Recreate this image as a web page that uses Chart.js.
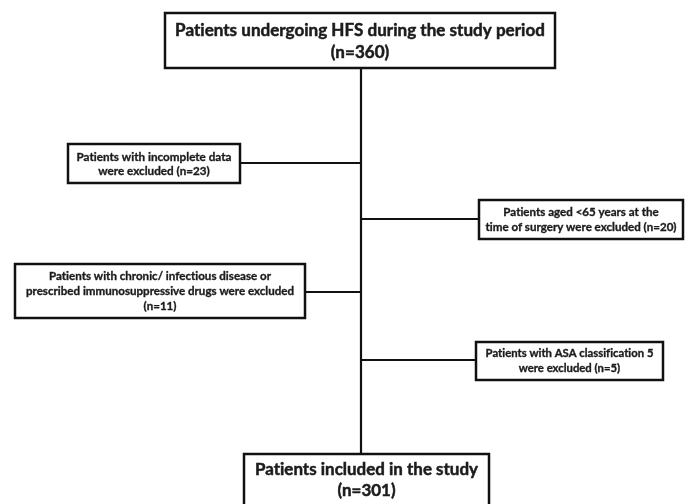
<!DOCTYPE html>
<html><head><meta charset="utf-8">
<script src="https://cdn.jsdelivr.net/npm/chart.js@4/dist/chart.umd.min.js"></script>
<style>html,body{margin:0;padding:0;background:#fff;overflow:hidden}#wrap{width:685px;height:504px;position:relative}</style>
</head><body><div id="wrap"><canvas id="c"></canvas></div>
<script>
// ---- data ----
const stepCounts = [360, 23, 20, 11, 5, 301];
const stepText = [
  ["Patients undergoing HFS during the study period", "(n={n})"],
  ["Patients with incomplete data", "were excluded (n={n})"],
  ["Patients aged <65 years at the", "time of surgery were excluded (n={n})"],
  ["Patients with chronic/ infectious disease or", "prescribed immunosuppressive drugs were excluded", "(n={n})"],
  ["Patients with ASA classification 5", "were excluded (n={n})"],
  ["Patients included in the study", "(n={n})"]
];
// ---- layout (data space = 685 x 504) ----
const boxX1 = [165, 68, 479, 15, 476, 244];
const boxX2 = [555, 240, 683, 305, 663, 489];
const boxY1 = [13, 144, 200, 264, 342, 454];
const boxY2 = [68, 183, 239, 318, 380, 530];
const textCY = [41, 164, 220, 291, 361, 480];
const textLH = [22, 14.5, 15, 15, 15.5, 21];
const textW  = [370, 155, 191, 268, 168, 223];
const trunkX = 361;
const branchY = [163, 219, 292, 360];
const branchFrom = [240, 479, 305, 476];

const lines = stepText.map((ls, i) => ls.map(s => s.replace("{n}", stepCounts[i])));

const datasets = [];
datasets.push({data: [{x: trunkX, y: boxY2[0]}, {x: trunkX, y: boxY1[5]}]});
branchY.forEach((y, i) => datasets.push({data: [{x: branchFrom[i], y: y}, {x: trunkX, y: y}]}));
datasets.forEach(d => Object.assign(d, {showLine: true, borderColor: '#111', borderWidth: 2.2, pointRadius: 0, fill: false}));

const boxPlugin = {
  id: 'boxes',
  afterDatasetsDraw(chart) {
    const ctx = chart.ctx, xs = chart.scales.x, ys = chart.scales.y;
    ctx.save();
    for (let i = 0; i < lines.length; i++) {
      const x1 = xs.getPixelForValue(boxX1[i]), x2 = xs.getPixelForValue(boxX2[i]);
      const y1 = ys.getPixelForValue(boxY1[i]), y2 = ys.getPixelForValue(boxY2[i]);
      ctx.fillStyle = '#fff';
      ctx.fillRect(x1, y1, x2 - x1, y2 - y1);
      ctx.strokeStyle = '#111';
      ctx.lineWidth = 2.5;
      ctx.strokeRect(x1, y1, x2 - x1, y2 - y1);
      if ('letterSpacing' in ctx) ctx.letterSpacing = '0.01px';
      let size = 20;
      ctx.font = `bold ${size}px Lato`;
      let maxW = Math.max(...lines[i].map(s => ctx.measureText(s).width));
      size = size * textW[i] / maxW;
      ctx.font = `bold ${size}px Lato`;
      ctx.fillStyle = '#1c1c1c';
      ctx.strokeStyle = '#1c1c1c';
      ctx.lineWidth = size > 14 ? 0.5 : 0.35;
      ctx.textAlign = 'center';
      ctx.textBaseline = 'middle';
      const cx = (x1 + x2) / 2;
      const n = lines[i].length;
      const cy = ys.getPixelForValue(textCY[i]);
      lines[i].forEach((s, k) => {
        const ty = cy + (k - (n - 1) / 2) * textLH[i];
        ctx.fillText(s, cx, ty);
        ctx.strokeText(s, cx, ty);
      });
    }
    ctx.restore();
  }
};

new Chart(document.getElementById('c'), {
  type: 'scatter',
  data: {datasets},
  options: {
    responsive: true, maintainAspectRatio: false, animation: false,
    layout: {padding: 0},
    scales: {
      x: {type: 'linear', min: 0, max: 685, display: false},
      y: {type: 'linear', min: 0, max: 504, reverse: true, display: false}
    },
    plugins: {legend: {display: false}, tooltip: {enabled: false}}
  },
  plugins: [boxPlugin]
});
</script>
</body></html>
